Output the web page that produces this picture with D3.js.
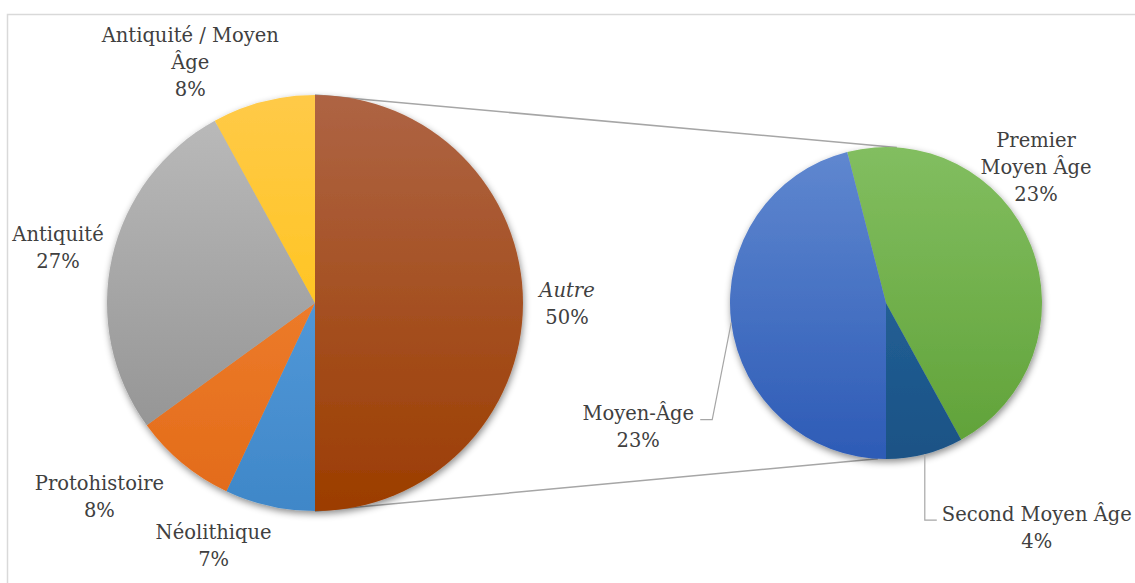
<!DOCTYPE html>
<html>
<head>
<meta charset="utf-8">
<script src="https://cdn.jsdelivr.net/npm/d3@7"></script>
<style>
  html, body { margin: 0; padding: 0; background: #fff; }
  svg { display: block; }
</style>
</head>
<body>
<svg id="chart" width="1135" height="583"></svg>
<script>
// ---- data ----
const mainCategories = ["Autre", "Néolithique", "Protohistoire", "Antiquité", "Antiquité / Moyen Âge"];
const mainValues = [50, 7, 8, 27, 8];
const mainLabelLines = [["Autre", "50%"], ["Néolithique", "7%"], ["Protohistoire", "8%"], ["Antiquité", "27%"], ["Antiquité / Moyen", "Âge", "8%"]];

const subCategories = ["Premier Moyen Âge", "Second Moyen Âge", "Moyen-Âge"];
const subValues = [23, 4, 23];
const subLabelLines = [["Premier", "Moyen Âge", "23%"], ["Second Moyen Âge", "4%"], ["Moyen-Âge", "23%"]];

// ---- styles / layout ----
const FONT = "'DejaVu Serif', 'Liberation Serif', serif";
const mainColors = [["#ae6444", "#9c3d00"], ["#63a8e8", "#3f87c8"], ["#f78c3c", "#e26a18"], ["#bcbcbc", "#8c8c8c"], ["#ffca48", "#ffc000"]];
const subColors = [["#82be60", "#5fa137"], ["#2a6ba3", "#1a5285"], ["#6088d0", "#2d5bb6"]];
const mainLabelOffsets = [[44, -6], [-56, 33], [-83, 27], [-54, -17], [-73, -60]];
const subLabelOffsets = [[5, -99], [112, 67], [-93, 97]];
const lineH = 27;

const svg = d3.select("#chart");
const defs = svg.append("defs");

const f = defs.append("filter").attr("id", "shadow")
  .attr("x", "-20%").attr("y", "-20%").attr("width", "140%").attr("height", "140%");
f.append("feDropShadow").attr("dx", 1).attr("dy", 3).attr("stdDeviation", 3.5)
  .attr("flood-color", "#000").attr("flood-opacity", 0.45);

svg.append("rect").attr("x", 7.5).attr("y", 14.5).attr("width", 1140).attr("height", 600)
  .attr("fill", "none").attr("stroke", "#d9d9d9").attr("stroke-width", 1.5);

const main = { cx: 315, cy: 303, r: 208 };
const sub = { cx: 886, cy: 303, r: 156 };

function gradient(id, c, cy, r) {
  const g = defs.append("linearGradient").attr("id", id)
    .attr("gradientUnits", "userSpaceOnUse")
    .attr("x1", 0).attr("y1", cy - r).attr("x2", 0).attr("y2", cy + r);
  g.append("stop").attr("offset", "0%").attr("stop-color", c[0]);
  g.append("stop").attr("offset", "100%").attr("stop-color", c[1]);
}

const mainPie = d3.pie().sort(null).value(d => d)(mainValues);
const subTotal = d3.sum(subValues);
const subStart = Math.PI - 2 * Math.PI * d3.sum(subValues.slice(0, -1)) / subTotal;
const subPie = d3.pie().sort(null).value(d => d)
  .startAngle(subStart).endAngle(subStart + 2 * Math.PI)(subValues);

const polar = (p, a) => [p.cx + p.r * Math.sin(a), p.cy - p.r * Math.cos(a)];
const splitTop = mainPie[0].startAngle, splitBot = mainPie[0].endAngle;
const conn = svg.append("g").attr("stroke", "#a6a6a6").attr("stroke-width", 1.5).attr("fill", "none");
[[polar(main, splitTop), polar(sub, 4 * Math.PI / 180)],
 [polar(main, splitBot), polar(sub, 183 * Math.PI / 180)]].forEach(l => {
  conn.append("line").attr("x1", l[0][0]).attr("y1", l[0][1]).attr("x2", l[1][0]).attr("y2", l[1][1]);
});

function drawPie(p, arcs, colors, prefix) {
  const arc = d3.arc().innerRadius(0).outerRadius(p.r);
  const g = svg.append("g").attr("transform", `translate(${p.cx},${p.cy})`).attr("filter", "url(#shadow)");
  arcs.forEach((a, i) => {
    gradient(prefix + i, colors[i], 0, p.r);
    g.append("path").attr("d", arc(a)).attr("fill", `url(#${prefix + i})`);
  });
}
drawPie(main, mainPie, mainColors, "gm");
drawPie(sub, subPie, subColors, "gs");

function outerPoint(p, a) {
  const m = (a.startAngle + a.endAngle) / 2;
  return polar(p, m);
}

function drawLabels(p, arcs, lines, offsets, italicIdx) {
  arcs.forEach((a, i) => {
    const o = outerPoint(p, a);
    const x = o[0] + offsets[i][0], y = o[1] + offsets[i][1];
    const t = svg.append("text").attr("text-anchor", "middle")
      .attr("font-family", FONT).attr("font-size", 19.5).attr("fill", "#404040");
    lines[i].forEach((s, k) => {
      t.append("tspan").attr("x", x).attr("y", y + k * lineH).text(s)
        .attr("font-style", (italicIdx === i && k === 0) ? "italic" : null);
    });
  });
}
drawLabels(main, mainPie, mainLabelLines, mainLabelOffsets, 0);
drawLabels(sub, subPie, subLabelLines, subLabelOffsets, -1);

const lead = svg.append("g").attr("stroke", "#a6a6a6").attr("stroke-width", 1.2).attr("fill", "none");
{
  const o = outerPoint(sub, subPie[1]);
  const ly = o[1] + subLabelOffsets[1][1] - 1;
  lead.append("path").attr("d", `M${o[0]},${o[1]}L${o[0]},${ly}L${o[0] + 12},${ly}`);
  const o2 = outerPoint(sub, subPie[2]);
  const ly2 = o2[1] + subLabelOffsets[2][1];
  lead.append("path").attr("d", `M${o2[0]},${o2[1]}L${o2[0] - 19},${ly2}L${o2[0] - 31},${ly2}`);
}
</script>
</body>
</html>
